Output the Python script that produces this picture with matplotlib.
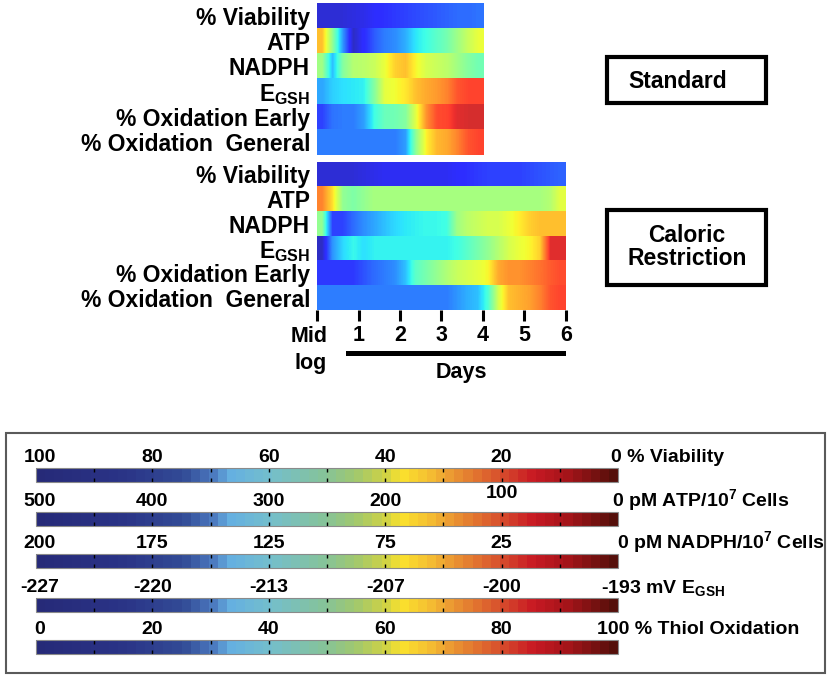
import numpy as np
import matplotlib
matplotlib.use("Agg")
import matplotlib.pyplot as plt
from matplotlib.colors import LinearSegmentedColormap, ListedColormap, Normalize
from matplotlib.patches import Rectangle
from matplotlib.lines import Line2D
import matplotlib.colorbar as mcolorbar

plt.rcParams['font.family'] = ['Liberation Sans', 'DejaVu Sans']
plt.rcParams['font.weight'] = 'bold'
plt.rcParams['mathtext.fontset'] = 'custom'
plt.rcParams['mathtext.rm'] = 'Liberation Sans:bold'
plt.rcParams['mathtext.it'] = 'Liberation Sans:bold'
plt.rcParams['mathtext.bf'] = 'Liberation Sans:bold'
plt.rcParams['mathtext.default'] = 'rm'

# row labels (same for both conditions)
row_labels = ['% Viability', 'ATP', 'NADPH', r'$E_{GSH}$',
              '% Oxidation Early', '% Oxidation  General']

# scaled values (0 = blue / low stress, 1 = dark red), one cell per quarter day
std_viability = [0.07, 0.07, 0.07, 0.08, 0.09, 0.11, 0.13, 0.14, 0.15, 0.16, 0.17, 0.18, 0.19, 0.20, 0.20, 0.21]
std_atp = [0.72, 0.50, 0.25, 0.05, 0.12, 0.18, 0.22, 0.24, 0.28, 0.35, 0.38, 0.42, 0.46, 0.52, 0.58, 0.63]
std_nadph = [0.52, 0.30, 0.48, 0.55, 0.56, 0.58, 0.63, 0.70, 0.72, 0.65, 0.60, 0.58, 0.56, 0.52, 0.48, 0.45]
std_egsh = [0.27, 0.32, 0.34, 0.35, 0.36, 0.48, 0.62, 0.64, 0.67, 0.72, 0.75, 0.77, 0.80, 0.86, 0.88, 0.88]
std_ox_early = [0.15, 0.21, 0.22, 0.22, 0.26, 0.38, 0.44, 0.45, 0.48, 0.62, 0.78, 0.87, 0.88, 0.92, 0.93, 0.93]
std_ox_general = [0.22, 0.22, 0.22, 0.22, 0.22, 0.22, 0.22, 0.22, 0.26, 0.50, 0.66, 0.73, 0.75, 0.80, 0.86, 0.88]

cr_viability = [0.07, 0.07, 0.07, 0.07, 0.08, 0.09, 0.10, 0.10, 0.10, 0.10, 0.10, 0.10,
                0.10, 0.11, 0.13, 0.14, 0.15, 0.15, 0.15, 0.15, 0.16, 0.17, 0.18, 0.19]
cr_atp = [0.80, 0.68, 0.50, 0.47, 0.50, 0.53, 0.53, 0.53, 0.53, 0.53, 0.53, 0.53,
          0.53, 0.53, 0.53, 0.53, 0.53, 0.53, 0.53, 0.53, 0.53, 0.53, 0.55, 0.62]
cr_nadph = [0.50, 0.15, 0.15, 0.20, 0.24, 0.27, 0.30, 0.33, 0.35, 0.36, 0.37, 0.37,
            0.38, 0.52, 0.56, 0.58, 0.60, 0.60, 0.63, 0.66, 0.70, 0.72, 0.72, 0.72]
cr_egsh = [0.05, 0.25, 0.33, 0.37, 0.34, 0.36, 0.36, 0.36, 0.36, 0.36, 0.36, 0.36,
           0.36, 0.38, 0.42, 0.46, 0.50, 0.55, 0.60, 0.63, 0.65, 0.70, 0.92, 0.92]
cr_ox_early = [0.14, 0.14, 0.14, 0.14, 0.17, 0.20, 0.22, 0.24, 0.30, 0.42, 0.46, 0.50,
               0.54, 0.58, 0.60, 0.62, 0.65, 0.75, 0.78, 0.78, 0.80, 0.82, 0.85, 0.87]
cr_ox_general = [0.22, 0.22, 0.22, 0.22, 0.22, 0.22, 0.22, 0.22, 0.22, 0.22, 0.22, 0.22,
                 0.22, 0.25, 0.28, 0.30, 0.40, 0.60, 0.72, 0.74, 0.76, 0.80, 0.86, 0.88]

standard_rows = [std_viability, std_atp, std_nadph, std_egsh, std_ox_early, std_ox_general]
caloric_rows = [cr_viability, cr_atp, cr_nadph, cr_egsh, cr_ox_early, cr_ox_general]
standard_days = 4
caloric_days = 6
day_labels = ['', '1', '2', '3', '4', '5', '6']

# legend scales
legend_ticks = [
    ['100', '80', '60', '40', '20'],
    ['500', '400', '300', '200', '100'],
    ['200', '175', '125', '75', '25'],
    ['-227', '-220', '-213', '-207', '-200'],
    ['0', '20', '40', '60', '80'],
]
legend_ends = ['0 % Viability', r'0 pM ATP/10$^7$ Cells', r'0 pM NADPH/10$^7$ Cells',
               r'-193 mV E$_{GSH}$', '100 % Thiol Oxidation']

leg_colors = [(0.00, '#262a78'), (0.15, '#2a3487'), (0.25, '#324b96'), (0.30, '#4b78be'),
              (0.33, '#64afe1'), (0.40, '#73becd'), (0.50, '#87c396'), (0.55, '#a0c86e'),
              (0.60, '#cdd246'), (0.63, '#fae12d'), (0.68, '#f5be32'), (0.72, '#eb9632'),
              (0.80, '#d7502d'), (0.86, '#c81923'), (0.92, '#a51419'), (1.00, '#550f0a')]
leg_cmap = LinearSegmentedColormap.from_list('legend', leg_colors, N=64)

# jet, slightly washed out like the printed figure
jet_rgba = plt.get_cmap('jet')(np.linspace(0, 1, 256))
jet_rgba[:, :3] = jet_rgba[:, :3] * 0.82 + 0.18
heat_cmap = ListedColormap(jet_rgba)

W, H = 835, 683
fig = plt.figure(figsize=(W / 100, H / 100), dpi=100)


def px_rect(x0, y0, x1, y1):
    return [x0 / W, 1 - y1 / H, (x1 - x0) / W, (y1 - y0) / H]


def fx(x):
    return x / W


def fy(y):
    return 1 - y / H


def heat_block(rect, rows, ndays):
    ax = fig.add_axes(rect)
    for i, vals in enumerate(rows):
        ax.imshow(np.array(vals)[None, :], cmap=heat_cmap, vmin=0, vmax=1, aspect='auto',
                  interpolation='bilinear', extent=(0, ndays, i + 1, i))
    ax.set_xlim(0, ndays)
    ax.set_ylim(len(rows), 0)
    ax.set_yticks(np.arange(len(rows)) + 0.5, row_labels, fontsize=16.5, fontweight='bold')
    ax.tick_params(axis='y', length=0, pad=5)
    for s in ax.spines.values():
        s.set_visible(False)
    return ax


ax1 = heat_block(px_rect(317, 3, 484, 155), standard_rows, standard_days)
ax1.set_xticks([])

ax2 = heat_block(px_rect(317, 162, 566, 310), caloric_rows, caloric_days)
ax2.set_xticks(range(caloric_days + 1), day_labels, fontsize=15.5, fontweight='bold')
ax2.tick_params(axis='x', direction='out', length=8, width=2.2, pad=3)

# Mid log label and Days bar
fig.text(fx(328), fy(342), 'Mid', ha='right', va='baseline', fontsize=15.5)
fig.text(fx(327), fy(369), 'log', ha='right', va='baseline', fontsize=15.5)
fig.add_artist(Line2D([fx(348), fx(563)], [fy(353), fy(353)], lw=3.6, color='black',
                      transform=fig.transFigure))
fig.text(fx(461), fy(378), 'Days', ha='center', va='baseline', fontsize=15.5)

# condition boxes
fig.add_artist(Rectangle((fx(607), fy(103)), (766 - 607) / W, (103 - 57) / H, fill=False,
                         lw=3, ec='black', transform=fig.transFigure))
fig.text(fx(678), fy(81), 'Standard', ha='center', va='center', fontsize=16.5)
fig.add_artist(Rectangle((fx(607), fy(285)), (766 - 607) / W, (285 - 210) / H, fill=False,
                         lw=3, ec='black', transform=fig.transFigure))
fig.text(fx(687), fy(247), 'Caloric\nRestriction', ha='center', va='center', fontsize=16.5,
         linespacing=1.05)

# legend panel
fig.add_artist(Rectangle((fx(6), fy(673)), (825 - 6) / W, (673 - 433) / H, fill=False,
                         lw=1.5, ec='#5a5a5a', transform=fig.transFigure))

bar_tops = [468, 512, 554, 598, 640]
end_x = [611, 612, 617, 601, 597]
for i, top in enumerate(bar_tops):
    cax = fig.add_axes(px_rect(36, top, 618, top + 14))
    cb = mcolorbar.ColorbarBase(cax, cmap=leg_cmap, norm=Normalize(0, 1),
                                orientation='horizontal', ticks=np.linspace(0.1, 0.9, 9))
    cax.tick_params(direction='in', length=3, width=1, top=True, bottom=True,
                    labelbottom=False, colors='black')
    cb.outline.set_edgecolor('#8a8a8a')
    cb.outline.set_linewidth(0.8)
    base = top - 5.5
    for j, lab in enumerate(legend_ticks[i]):
        x = 36 + 582 * 0.2 * j + (4 if j == 0 else 0)
        y = base - 8 if (i == 1 and j == 4) else base
        fig.text(fx(x), fy(y), lab, ha='center', va='baseline', fontsize=14)
    fig.text(fx(end_x[i]), fy(base), legend_ends[i], ha='left', va='baseline', fontsize=14)

fig.savefig('out.png', dpi=100)
